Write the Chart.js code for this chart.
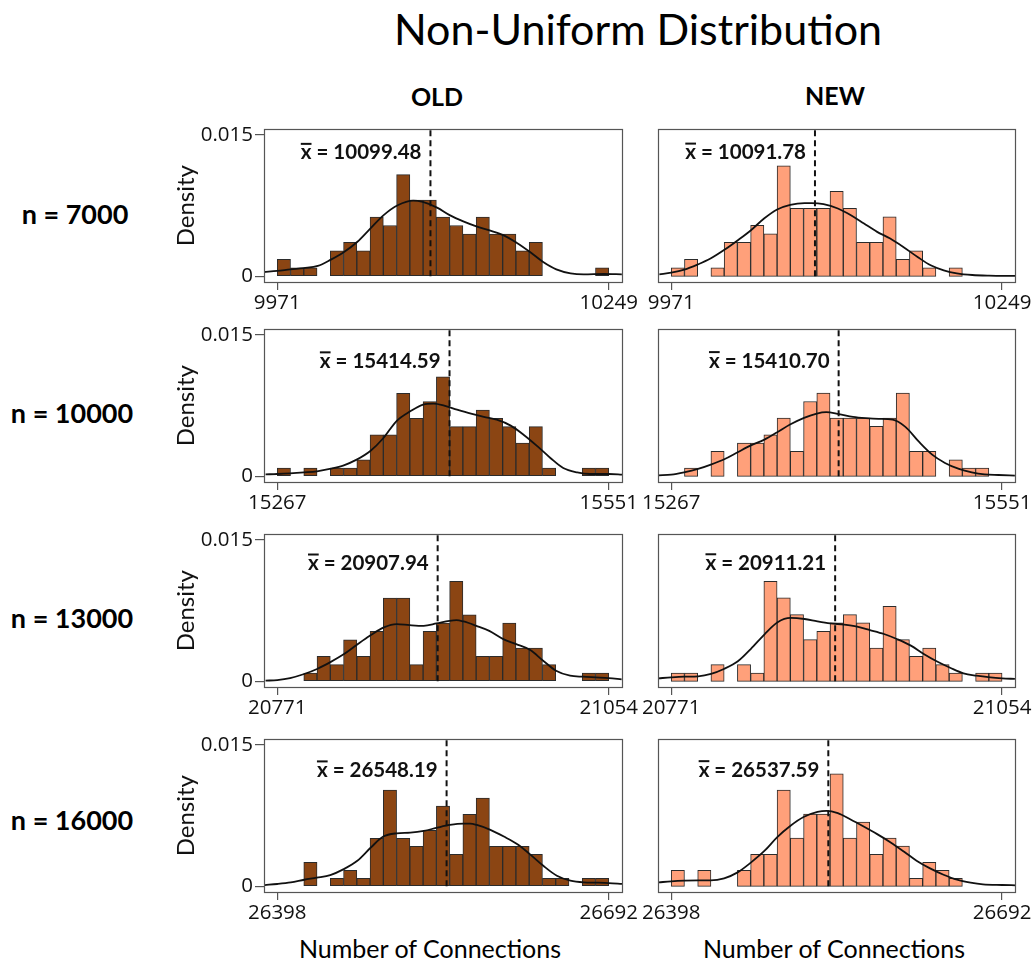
<!DOCTYPE html>
<html>
<head>
<meta charset="utf-8">
<script src="https://cdn.jsdelivr.net/npm/chart.js@4.4.0/dist/chart.umd.min.js"></script>
<style>
  body { margin: 0; background: #fff; }
  #page { position: relative; width: 1035px; height: 963px; overflow: hidden; font-family: Lato, sans-serif; color: #000; }
  #page canvas { position: absolute; }
  .txt { position: absolute; transform: translate(-50%, -50%); white-space: nowrap; line-height: 1; }
  .b { font-weight: bold; }
</style>
</head>
<body>
<div id="page">
  <div class="txt" style="left:638px;top:28px;font-size:43px;">Non-Uniform Distribution</div>
</div>
<script>
// rows = sample sizes, columns = old / new method
const rowLabels = ['n = 7000', 'n = 10000', 'n = 13000', 'n = 16000'];
const colLabels = ['OLD', 'NEW'];
const xTitle = 'Number of Connections';

// x tick labels (first / last bin edge), 25 bins of 100 runs each
const tickLo = [9971, 15267, 20771, 26398];
const tickHi = [10249, 15551, 21054, 26692];
const binCount = 25;
const sampleSize = 100;
const densityTicks = [0, 0.015];

const oldMeans = [10099.48, 15414.59, 20907.94, 26548.19];
const newMeans = [10091.78, 15410.70, 20911.21, 26537.59];

// histogram counts per bin
const oldCounts = [
  [2, 1, 1, 0, 3, 4, 3, 7, 6, 12, 9, 9, 7, 6, 5, 7, 5, 5, 3, 4, 0, 0, 0, 0, 1],
  [1, 0, 1, 0, 1, 1, 2, 5, 5, 10, 7, 9, 12, 6, 6, 8, 7, 6, 4, 6, 1, 0, 0, 1, 1],
  [0, 0, 1, 3, 2, 5, 3, 6, 10, 10, 2, 6, 7, 12, 8, 3, 3, 7, 4, 4, 2, 0, 0, 1, 1],
  [0, 0, 3, 0, 1, 2, 1, 6, 12, 6, 5, 7, 10, 4, 9, 11, 5, 5, 5, 4, 1, 1, 0, 1, 1]
];
const newCounts = [
  [1, 2, 0, 1, 4, 4, 6, 5, 13, 8, 8, 8, 10, 8, 4, 4, 7, 2, 3, 1, 0, 1, 0, 0, 0],
  [0, 1, 0, 3, 0, 4, 4, 5, 7, 3, 9, 10, 7, 7, 7, 6, 7, 10, 3, 3, 0, 2, 1, 1, 0],
  [1, 1, 0, 2, 0, 2, 1, 12, 10, 8, 5, 6, 7, 8, 7, 4, 9, 5, 3, 4, 2, 1, 0, 1, 1],
  [2, 0, 2, 0, 0, 2, 4, 4, 12, 6, 9, 9, 14, 6, 8, 4, 6, 5, 1, 3, 2, 1, 0, 0, 0]
];

// density curves
const oldCurveX = [
  [9960, 9971, 9982, 9993, 10005, 10016, 10027, 10038, 10049, 10060, 10072, 10085, 10093, 10105, 10116, 10127, 10138, 10149, 10161, 10172, 10183, 10194, 10205, 10217, 10228, 10245, 10260],
  [15257, 15267, 15290, 15301, 15313, 15324, 15335, 15347, 15358, 15369, 15381, 15392, 15401, 15410, 15421, 15433, 15444, 15455, 15467, 15478, 15490, 15501, 15512, 15524, 15535, 15551, 15563],
  [20761, 20771, 20782, 20794, 20805, 20816, 20828, 20839, 20850, 20862, 20873, 20884, 20896, 20907, 20918, 20924, 20930, 20941, 20952, 20964, 20975, 20987, 20998, 21009, 21021, 21032, 21043, 21054, 21065],
  [26387, 26398, 26410, 26422, 26433, 26445, 26457, 26469, 26481, 26492, 26504, 26516, 26528, 26540, 26551, 26563, 26569, 26575, 26587, 26599, 26611, 26622, 26634, 26646, 26658, 26670, 26681, 26692, 26704]
];
const oldCurveY = [
  [0.00046, 0.00057, 0.00074, 0.00088, 0.0011, 0.00177, 0.00258, 0.00364, 0.00506, 0.00647, 0.00754, 0.00803, 0.00789, 0.00729, 0.00647, 0.00584, 0.00531, 0.00488, 0.00435, 0.00354, 0.00258, 0.00152, 0.00074, 0.00032, 0.00021, 0.00025, 0.00021],
  [0.00021, 0.00025, 0.00042, 0.00053, 0.00081, 0.00117, 0.00177, 0.00272, 0.00407, 0.00584, 0.0069, 0.00761, 0.00771, 0.0075, 0.00708, 0.00665, 0.0063, 0.00601, 0.00538, 0.00442, 0.00318, 0.00195, 0.00088, 0.00042, 0.00025, 0.00025, 0.00018],
  [0.00007, 0.00014, 0.00035, 0.00078, 0.00131, 0.00201, 0.00289, 0.00388, 0.00483, 0.00572, 0.00607, 0.00596, 0.00589, 0.00614, 0.00642, 0.00649, 0.00635, 0.00589, 0.00536, 0.00448, 0.00395, 0.00332, 0.00219, 0.00113, 0.0006, 0.00049, 0.00042, 0.00035, 0.00021],
  [0.00014, 0.00025, 0.00042, 0.0007, 0.00092, 0.0012, 0.00183, 0.00271, 0.00412, 0.00528, 0.00563, 0.0057, 0.00588, 0.00623, 0.00651, 0.00665, 0.00665, 0.00651, 0.00599, 0.00528, 0.00447, 0.00342, 0.00218, 0.00113, 0.0006, 0.00042, 0.00039, 0.00035, 0.00025]
];
const newCurveX = [
  [9961, 9971, 9982, 9993, 10004, 10016, 10027, 10038, 10049, 10060, 10071, 10083, 10089, 10099, 10111, 10122, 10133, 10144, 10155, 10166, 10178, 10189, 10200, 10211, 10224, 10238, 10260],
  [15256, 15267, 15278, 15290, 15301, 15313, 15324, 15335, 15347, 15358, 15369, 15381, 15392, 15400, 15411, 15423, 15434, 15445, 15457, 15468, 15480, 15491, 15502, 15514, 15525, 15536, 15548, 15562],
  [20760, 20771, 20782, 20794, 20805, 20816, 20828, 20839, 20851, 20862, 20873, 20885, 20896, 20907, 20919, 20930, 20941, 20953, 20964, 20976, 20987, 20998, 21010, 21021, 21032, 21044, 21054, 21065],
  [26387, 26398, 26410, 26422, 26433, 26445, 26457, 26469, 26481, 26492, 26504, 26516, 26528, 26536, 26546, 26557, 26569, 26581, 26593, 26605, 26616, 26628, 26640, 26652, 26664, 26675, 26692, 26704]
];
const newCurveY = [
  [0.00021, 0.00039, 0.00071, 0.00124, 0.00188, 0.00283, 0.00382, 0.00488, 0.00612, 0.00708, 0.00757, 0.00775, 0.00775, 0.00764, 0.00718, 0.00647, 0.00559, 0.00471, 0.004, 0.00311, 0.00205, 0.00117, 0.00064, 0.00032, 0.00014, 0.00007, 0.00004],
  [0.00011, 0.00018, 0.00042, 0.00078, 0.00124, 0.00184, 0.00255, 0.00325, 0.00389, 0.00467, 0.00548, 0.00619, 0.00665, 0.00679, 0.00658, 0.0063, 0.00616, 0.00608, 0.00601, 0.00524, 0.00361, 0.0023, 0.00142, 0.00078, 0.00042, 0.00021, 0.00014, 0.00007],
  [0.00032, 0.00042, 0.00049, 0.00053, 0.00078, 0.00131, 0.00212, 0.00342, 0.00501, 0.00625, 0.00671, 0.0066, 0.00635, 0.00614, 0.006, 0.00579, 0.00543, 0.00501, 0.00448, 0.00378, 0.00289, 0.00212, 0.00141, 0.00085, 0.0006, 0.00042, 0.00032, 0.00025],
  [0.00042, 0.00053, 0.0006, 0.00063, 0.00063, 0.00085, 0.00148, 0.00254, 0.00377, 0.00518, 0.00641, 0.00736, 0.00789, 0.008, 0.00775, 0.00711, 0.00634, 0.00553, 0.00465, 0.00366, 0.00271, 0.0019, 0.00123, 0.0007, 0.00039, 0.00021, 0.00014, 0.00011]
];

// layout
const boxLeft = [264, 658];
const boxTop = [129, 329, 534, 739];
const boxW = 358, boxH = 153;
const labelAt = [0.0131, 0.0122, 0.0125, 0.0123];
const barColors = ['#8B4513', '#FFA07A'];
const rowLabelPos = [[75, 213], [72, 412], [72, 617], [72, 819]];
const colLabelPos = [[437, 96], [835, 95]];
const xTitlePos = [[430, 948], [834, 948]];
const tickFont = { family: 'Open Sans', size: 20.5 };

Chart.defaults.font.family = 'Lato';
Chart.defaults.color = '#111';

const page = document.getElementById('page');

function addText(str, x, y, size, bold) {
  const d = document.createElement('div');
  d.className = 'txt' + (bold ? ' b' : '');
  d.style.left = x + 'px';
  d.style.top = y + 'px';
  d.style.fontSize = size + 'px';
  d.textContent = str;
  page.appendChild(d);
}

rowLabels.forEach((t, i) => addText(t, rowLabelPos[i][0], rowLabelPos[i][1], 27, true));
colLabels.forEach((t, i) => addText(t, colLabelPos[i][0], colLabelPos[i][1], 25, true));
xTitlePos.forEach(p => addText(xTitle, p[0], p[1], 25, false));

const boxPlugin = {
  id: 'box',
  afterDraw(chart) {
    const { ctx, chartArea: a } = chart;
    ctx.save();
    ctx.strokeStyle = '#555';
    ctx.lineWidth = 1.2;
    ctx.strokeRect(Math.round(a.left) + 0.5, Math.round(a.top) + 0.5, Math.round(a.width), Math.round(a.height));
    ctx.restore();
  }
};

// "x̄ = mean" label, right of which the dashed mean line sits
const meanLabel = {
  id: 'meanLabel',
  afterDatasetsDraw(chart, args, opts) {
    const { ctx, scales: { x, y } } = chart;
    const px = x.getPixelForValue(opts.mean) - 9;
    const py = y.getPixelForValue(opts.at);
    const txt = 'x = ' + opts.mean.toFixed(2);
    ctx.save();
    ctx.font = 'bold 20.5px Lato';
    ctx.fillStyle = '#111';
    ctx.textAlign = 'right';
    ctx.textBaseline = 'middle';
    ctx.fillText(txt, px, py);
    const wAll = ctx.measureText(txt).width;
    const wx = ctx.measureText('x').width;
    ctx.fillRect(px - wAll, py - 10, wx, 2);
    ctx.restore();
  }
};

function makePanel(c, r) {
  const counts = c === 0 ? oldCounts[r] : newCounts[r];
  const cx = c === 0 ? oldCurveX[r] : newCurveX[r];
  const cy = c === 0 ? oldCurveY[r] : newCurveY[r];
  const mean = c === 0 ? oldMeans[r] : newMeans[r];
  const lo = tickLo[r], hi = tickHi[r];
  const bw = (hi - lo) / binCount;
  const span = hi - lo;
  const dSpan = densityTicks[1] - densityTicks[0];
  const yMin = densityTicks[0] - 0.04 * dSpan;
  const yMax = densityTicks[1] + 0.04 * dSpan;

  const padTop = 14;
  const padLeft = c === 0 ? 0 : 20;
  const padRight = c === 0 ? 20 : 17;
  const yAxisW = c === 0 ? 94 : 0;
  const xAxisH = 38;

  const canvas = document.createElement('canvas');
  canvas.width = padLeft + yAxisW + boxW + padRight;
  canvas.height = padTop + boxH + xAxisH;
  canvas.style.left = (boxLeft[c] - yAxisW - padLeft) + 'px';
  canvas.style.top = (boxTop[r] - padTop) + 'px';
  page.appendChild(canvas);

  const bars = counts.map((n, i) => ({ x: lo + (i + 0.5) * bw, y: n ? n / (sampleSize * bw) : null }));
  const curve = cx.map((v, i) => ({ x: v, y: cy[i] }));

  new Chart(canvas, {
    type: 'bar',
    data: {
      datasets: [
        {
          type: 'line', data: [{ x: mean, y: 0 }, { x: mean, y: yMax }],
          borderColor: '#111', borderWidth: 2, borderDash: [6, 4], pointRadius: 0, order: 0
        },
        {
          type: 'line', data: curve, borderColor: '#111', borderWidth: 1.8,
          pointRadius: 0, cubicInterpolationMode: 'monotone', order: 1
        },
        {
          data: bars, backgroundColor: barColors[c], borderColor: '#2b2b2b', borderWidth: 1,
          borderSkipped: false, barPercentage: 1, categoryPercentage: 1, order: 2
        }
      ]
    },
    options: {
      responsive: false,
      animation: false,
      events: [],
      layout: { padding: { top: padTop, left: padLeft, right: padRight, bottom: 0 } },
      plugins: {
        legend: { display: false },
        tooltip: { enabled: false },
        meanLabel: { mean: mean, at: labelAt[r] }
      },
      scales: {
        x: {
          type: 'linear', offset: false,
          min: lo - 0.04 * span, max: hi + 0.04 * span,
          afterBuildTicks: s => { s.ticks = [{ value: lo }, { value: hi }]; },
          afterFit: s => { s.height = xAxisH; },
          ticks: { callback: v => String(v), font: tickFont, padding: 1, maxRotation: 0, autoSkip: false },
          grid: { offset: false, drawOnChartArea: false, drawTicks: true, tickLength: 8, color: '#555', lineWidth: 1.2 },
          border: { display: false }
        },
        y: {
          display: c === 0,
          min: yMin, max: yMax,
          afterBuildTicks: s => { s.ticks = densityTicks.map(v => ({ value: v })); },
          afterFit: s => { s.width = yAxisW; },
          ticks: { callback: v => String(v), font: tickFont, padding: 2 },
          grid: { drawOnChartArea: false, drawTicks: true, tickLength: 9, color: '#555', lineWidth: 1.2 },
          border: { display: false },
          title: { display: true, text: 'Density', font: { size: 24 }, color: '#111', padding: { top: 2, bottom: 2 } }
        }
      }
    },
    plugins: [boxPlugin, meanLabel]
  });
}

for (let r = 0; r < rowLabels.length; r++) {
  for (let c = 0; c < colLabels.length; c++) makePanel(c, r);
}
</script>
</body>
</html>
